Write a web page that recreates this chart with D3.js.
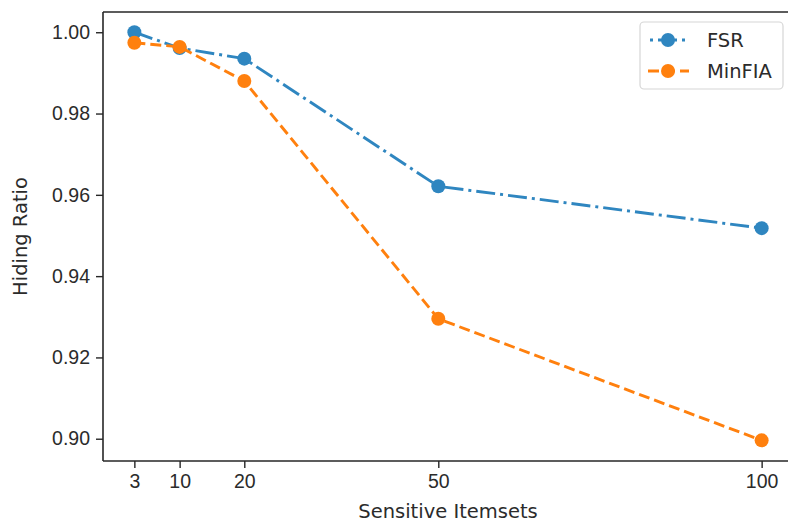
<!DOCTYPE html>
<html>
<head>
<meta charset="utf-8">
<script src="https://cdn.jsdelivr.net/npm/d3@7"></script>
<style>
  body { margin: 0; background: #fff; }
  svg { display: block; font-family: "DejaVu Sans", sans-serif; }
  .tick text { fill: #2b2b2b; font-size: 19.5px; }
  .tick line { stroke: #262626; stroke-width: 1.4; }
</style>
</head>
<body>
<svg id="chart"></svg>
<script>
// values
const itemsets = [3, 10, 20, 50, 100];
const fsr = [1.0000, 0.9961, 0.9935, 0.9621, 0.9518];
const minfia = [0.9974, 0.9964, 0.9880, 0.9295, 0.8996];
const yTicks = [0.90, 0.92, 0.94, 0.96, 0.98, 1.00];

const width = 788, height = 524;
const margin = { top: 12, right: -5, bottom: 63, left: 103 };

const svg = d3.select("#chart").attr("width", width).attr("height", height);

const x = d3.scaleLinear()
  .domain([-1.85, 104.85])
  .range([margin.left, width - margin.right]);

const y = d3.scaleLinear()
  .domain([0.89452, 1.00498])
  .range([height - margin.bottom, margin.top]);

const series = [
  { name: "FSR", values: fsr, color: "#2f86c0", dash: "19,5,3,5", legendOffset: 22 },
  { name: "MinFIA", values: minfia, color: "#ff800e", dash: "11,5", legendOffset: 0 }
];

const line = d3.line().x((d, i) => x(itemsets[i])).y(d => y(d));

series.forEach(s => {
  svg.append("path")
    .datum(s.values)
    .attr("d", line)
    .attr("fill", "none")
    .attr("stroke", s.color)
    .attr("stroke-width", 2.9)
    .attr("stroke-dasharray", s.dash);
  svg.append("g")
    .selectAll("circle")
    .data(s.values)
    .join("circle")
      .attr("cx", (d, i) => x(itemsets[i]))
      .attr("cy", d => y(d))
      .attr("r", 7)
      .attr("fill", s.color);
});

// axes
svg.append("g")
  .attr("transform", `translate(0,${height - margin.bottom})`)
  .call(d3.axisBottom(x).tickValues(itemsets).tickSize(7).tickPadding(6))
  .call(g => g.select(".domain").remove());

svg.append("g")
  .attr("transform", `translate(${margin.left},0)`)
  .call(d3.axisLeft(y).tickValues(yTicks).tickFormat(d3.format(".2f")).tickSize(7).tickPadding(6))
  .call(g => g.select(".domain").remove());

// spines
const spine = svg.append("g").attr("stroke", "#262626").attr("stroke-width", 1.6).attr("fill", "none");
spine.append("line").attr("x1", margin.left).attr("x2", margin.left)
  .attr("y1", margin.top).attr("y2", height - margin.bottom);
spine.append("line").attr("x1", margin.left).attr("x2", width)
  .attr("y1", height - margin.bottom).attr("y2", height - margin.bottom);
spine.append("line").attr("x1", margin.left).attr("x2", width)
  .attr("y1", margin.top).attr("y2", margin.top);

// axis labels
svg.append("text")
  .attr("x", (x.range()[0] + x.range()[1]) / 2)
  .attr("y", 518)
  .attr("text-anchor", "middle")
  .attr("fill", "#2b2b2b")
  .style("font-size", "19.5px")
  .text("Sensitive Itemsets");

svg.append("text")
  .attr("transform", `translate(27,${(margin.top + height - margin.bottom) / 2}) rotate(-90)`)
  .attr("text-anchor", "middle")
  .attr("fill", "#2b2b2b")
  .style("font-size", "19.5px")
  .text("Hiding Ratio");

// legend
const legend = svg.append("g");
legend.append("rect")
  .attr("x", 640).attr("y", 22).attr("width", 143).attr("height", 67)
  .attr("rx", 4)
  .attr("fill", "#fff").attr("fill-opacity", 0.8)
  .attr("stroke", "#d6d6d6").attr("stroke-width", 1.2);

series.forEach((s, i) => {
  const ly = 40 + i * 31;
  legend.append("line")
    .attr("x1", 648).attr("x2", 689).attr("y1", ly).attr("y2", ly)
    .attr("stroke", s.color).attr("stroke-width", 2.9)
    .attr("stroke-dasharray", s.dash)
    .attr("stroke-dashoffset", s.legendOffset);
  legend.append("circle")
    .attr("cx", 668).attr("cy", ly).attr("r", 7).attr("fill", s.color);
  legend.append("text")
    .attr("x", 707).attr("y", ly).attr("dy", "0.35em")
    .attr("fill", "#2b2b2b")
    .style("font-size", "19.5px")
    .text(s.name);
});
</script>
</body>
</html>
